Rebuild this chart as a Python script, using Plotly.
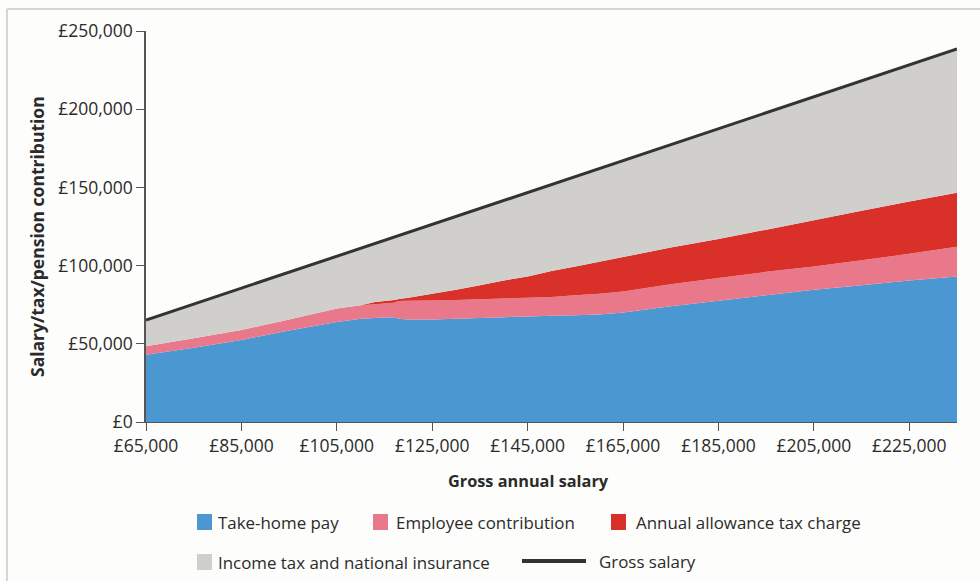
import numpy as np
import plotly.graph_objects as go

# ---- data (in £) ----
salary = [65000, 75000, 85000, 95000, 105000, 110000, 113000, 117000, 118000, 120000,
          125000, 130000, 135000, 140000, 145000, 150000, 155000, 160000, 165000,
          175000, 185000, 195000, 205000, 215000, 225000, 235000]
take_home = [43000, 47500, 52500, 58500, 64000, 66000, 66500, 67000, 66000, 65500,
             65500, 66000, 66500, 67000, 67500, 68000, 68200, 68700, 70000,
             74000, 77500, 81000, 84500, 87500, 90500, 93000]
employee_contrib = [5400, 6000, 6300, 7000, 8500, 8600, 8800, 9300, 11300, 12000,
                    12200, 12000, 12000, 12000, 12000, 12000, 12800, 13300, 13500,
                    14000, 14500, 15000, 15000, 16000, 17000, 19000]
allowance_charge = [0, 0, 0, 0, 0, 0, 1400, 1700, 1300, 2000,
                    4300, 6500, 9000, 11500, 13500, 16500, 18500, 20500, 22000,
                    23500, 25000, 27000, 29500, 31500, 33500, 34500]
gross_salary = [65200, 75400, 85600, 95800, 106000, 111000, 114300, 118400, 119400, 121400,
                126500, 131700, 136800, 141900, 147000, 152000, 157200, 162300, 167400,
                177600, 187800, 198000, 208200, 218400, 228600, 238500]
income_tax_ni = list(np.array(gross_salary) - np.array(take_home)
                     - np.array(employee_contrib) - np.array(allowance_charge))

x_ticks = [65000, 85000, 105000, 125000, 145000, 165000, 185000, 205000, 225000]
x_tick_labels = ["£65,000", "£85,000", "£105,000", "£125,000", "£145,000",
                 "£165,000", "£185,000", "£205,000", "£225,000"]
y_ticks = [0, 50000, 100000, 150000, 200000, 250000]
y_tick_labels = ["£0", "£50,000", "£100,000", "£150,000", "£200,000", "£250,000"]

series_names = ["Take-home pay", "Employee contribution", "Annual allowance tax charge",
                "Income tax and national insurance"]
series_vals = [take_home, employee_contrib, allowance_charge, income_tax_ni]
colors = ["#4b97d2", "#e9788a", "#d9312a", "#d0cfcc"]

FONT = "Open Sans"
TXT = "#2b2b2b"

fig = go.Figure()
for name, vals, col in zip(series_names, series_vals, colors):
    fig.add_trace(go.Scatter(x=salary, y=vals, name=name, stackgroup="one",
                             mode="none", fillcolor=col, line=dict(width=0),
                             showlegend=False))
fig.add_trace(go.Scatter(x=salary, y=gross_salary, name="Gross salary", mode="lines",
                         line=dict(color="#333333", width=3), showlegend=False))

# plot area in pixels
L, R, T, B = 146, 957, 31, 422
W, H = 980, 581


def px(xp):
    return (xp - L) / (R - L)


def py(yp):
    return (B - yp) / (B - T)


fig.update_layout(
    width=W, height=H,
    margin=dict(l=L, r=W - R, t=T, b=H - B),
    paper_bgcolor="#fdfdfb", plot_bgcolor="rgba(0,0,0,0)",
    font=dict(family=FONT, color=TXT, size=16),
)
fig.update_xaxes(range=[65000, 235000], tickvals=x_ticks, ticktext=x_tick_labels,
                 ticks="outside", ticklen=8, tickcolor="#555", showline=True,
                 linecolor="#555", linewidth=1, showgrid=False, zeroline=False,
                 tickfont=dict(size=17.5, family=FONT, color=TXT))
fig.update_yaxes(range=[0, 250000], tickvals=y_ticks, ticktext=y_tick_labels,
                 ticks="outside", ticklen=8, tickcolor="#555", showline=True,
                 linecolor="#555", linewidth=1.5, showgrid=False, zeroline=False,
                 tickfont=dict(size=17.5, family=FONT, color=TXT))

ann = [
    dict(text="<b>Salary/tax/pension contribution</b>", x=px(37), y=py(237),
         xref="paper", yref="paper", textangle=-90, showarrow=False,
         font=dict(size=17.5, family=FONT, color=TXT), xanchor="center", yanchor="middle"),
    dict(text="<b>Gross annual salary</b>", x=px(528), y=py(481),
         xref="paper", yref="paper", showarrow=False,
         font=dict(size=16.3, family=FONT, color=TXT), xanchor="center", yanchor="middle"),
]
shapes = []
# legend
leg_items = [
    (197, 522, colors[0], series_names[0], 216),
    (373, 522, colors[1], series_names[1], 394),
    (611, 522, colors[2], series_names[2], 634),
    (197, 562, colors[3], series_names[3], 216),
]
LEG_SIZE = 16.9
for bx, by, col, name, tx in leg_items:
    shapes.append(dict(type="rect", xref="paper", yref="paper",
                       x0=px(bx), x1=px(bx + 15), y0=py(by + 8), y1=py(by - 8),
                       fillcolor=col, line=dict(width=0)))
    ann.append(dict(text=name, x=px(tx), y=py(by), xref="paper", yref="paper",
                    showarrow=False, xanchor="left", yanchor="middle",
                    font=dict(size=LEG_SIZE, family=FONT, color=TXT)))
shapes.append(dict(type="line", xref="paper", yref="paper",
                   x0=px(522), x1=px(586), y0=py(561), y1=py(561),
                   line=dict(color="#333333", width=4)))
ann.append(dict(text="Gross salary", x=px(597), y=py(561), xref="paper", yref="paper",
                showarrow=False, xanchor="left", yanchor="middle",
                font=dict(size=LEG_SIZE, family=FONT, color=TXT)))
# frame
shapes.append(dict(type="line", xref="paper", yref="paper", x0=px(7), x1=px(980),
                   y0=py(9), y1=py(9), line=dict(color="#d6d6d6", width=2)))
shapes.append(dict(type="line", xref="paper", yref="paper", x0=px(7), x1=px(7),
                   y0=py(9), y1=py(581), line=dict(color="#d6d6d6", width=2)))

fig.update_layout(annotations=ann, shapes=shapes)
fig.write_html("out.html")
